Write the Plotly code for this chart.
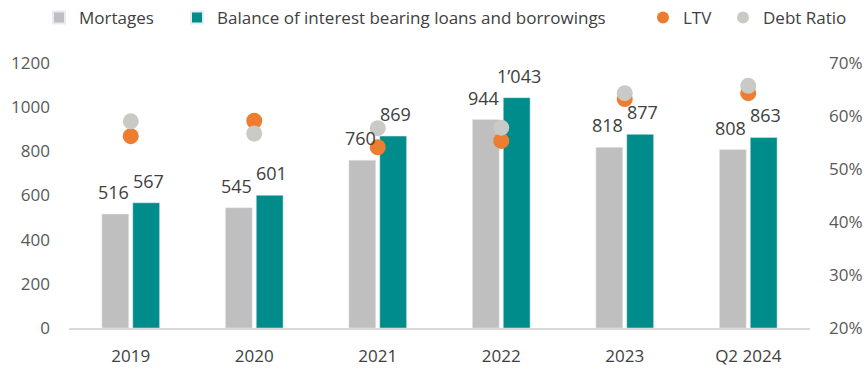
import plotly.graph_objects as go

categories = ["2019", "2020", "2021", "2022", "2023", "Q2 2024"]
mortgages = [516, 545, 760, 944, 818, 808]
balance = [567, 601, 869, 1043, 877, 863]
ltv = [56.2, 59.1, 54.1, 55.3, 63.2, 64.3]
debt_ratio = [59.0, 56.7, 57.7, 57.8, 64.3, 65.7]

left_ticks = [0, 200, 400, 600, 800, 1000, 1200]
right_ticks = [20, 30, 40, 50, 60, 70]
right_ticktext = [f"{v}%" for v in right_ticks]

FONT = "Open Sans"
TXT = "#404040"
GRAY_BAR = "#BFBFBF"
TEAL = "#008C8A"
ORANGE = "#ED7D31"
GRAY_DOT = "#C9C9C5"


def fmt(v):
    return f"{v:,}".replace(",", "\u2019")


fig = go.Figure()
fig.add_trace(go.Bar(name="Mortages", x=categories, y=mortgages,
                     marker=dict(color=GRAY_BAR), yaxis="y", legend="legend"))
fig.add_trace(go.Bar(name="Balance of interest bearing loans and borrowings",
                     x=categories, y=balance, marker=dict(color=TEAL), yaxis="y",
                     legend="legend2"))
fig.add_trace(go.Scatter(name="LTV", x=categories, y=ltv, mode="markers",
                         marker=dict(color=ORANGE, size=16), yaxis="y2", legend="legend3"))
fig.add_trace(go.Scatter(name="Debt Ratio", x=categories, y=debt_ratio, mode="markers",
                         marker=dict(color=GRAY_DOT, size=16), yaxis="y2", legend="legend4"))

annotations = []
for i, (m, b) in enumerate(zip(mortgages, balance)):
    annotations.append(dict(x=i, y=m, xref="x", yref="y", text=fmt(m), showarrow=False,
                            xshift=-17.5, yshift=22, font=dict(size=18, color=TXT, family=FONT)))
    annotations.append(dict(x=i, y=b, xref="x", yref="y", text=fmt(b), showarrow=False,
                            xshift=17.5, yshift=22, font=dict(size=18, color=TXT, family=FONT)))


def leg(xpx):
    return dict(orientation="h", xref="container", yref="container",
                x=xpx / 868, y=1.0, xanchor="left", yanchor="top",
                font=dict(size=17, color=TXT, family=FONT), itemwidth=30,
                itemsizing="constant", bgcolor="rgba(0,0,0,0)")


fig.update_layout(
    width=868, height=369,
    margin=dict(l=69, r=58, t=63, b=41, autoexpand=False),
    paper_bgcolor="white", plot_bgcolor="white",
    font=dict(family=FONT, color=TXT, size=17),
    barmode="group", bargap=0.5, bargroupgap=0.13,
    xaxis=dict(type="category", showgrid=False, showline=True, linecolor="#D9D9D9",
               linewidth=2, ticks="", tickfont=dict(size=17, color=TXT),
               range=[-0.5, 5.5], ticklabelstandoff=12, automargin=False),
    yaxis=dict(range=[0, 1200], tickvals=left_ticks, showgrid=False, zeroline=False,
               showline=False, tickfont=dict(size=17, color="#595959"),
               ticklabelstandoff=18, automargin=False),
    yaxis2=dict(range=[20, 70], tickvals=right_ticks, ticktext=right_ticktext,
                overlaying="y", side="right", showgrid=False, zeroline=False,
                showline=False, tickfont=dict(size=17, color="#595959"),
                ticklabelstandoff=18, automargin=False),
    legend=leg(39),
    legend2=leg(177),
    legend3=leg(643),
    legend4=leg(723),
    annotations=annotations,
    showlegend=True,
)

fig.write_html("out.html")
